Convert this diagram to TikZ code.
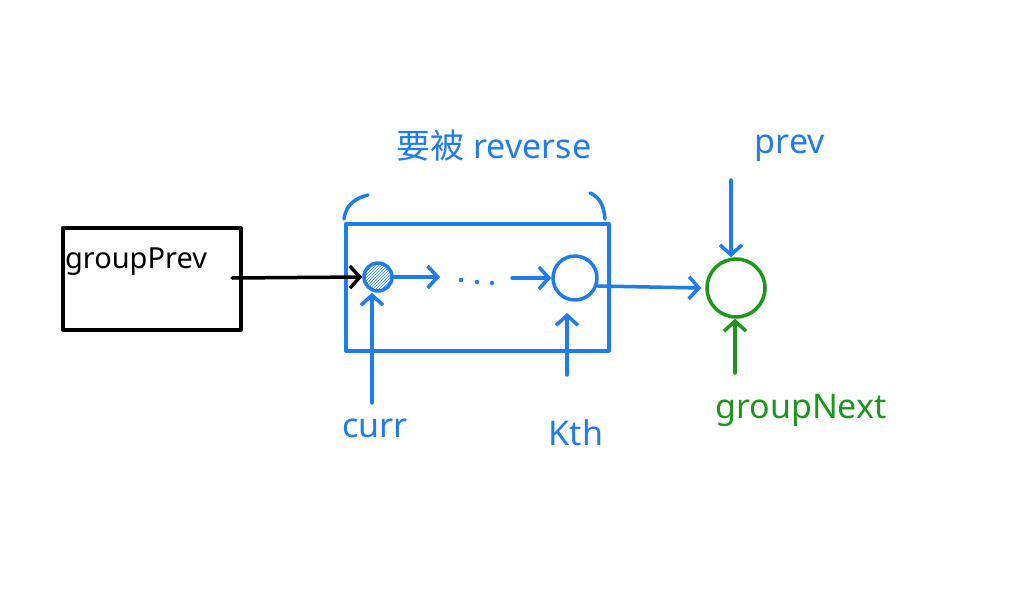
\documentclass[tikz,border=0pt]{standalone}
\usepackage{fontspec}
\setmainfont{Noto Sans}
\newfontfamily\cjk{Noto Sans CJK SC}
\usetikzlibrary{arrows.meta,patterns}
\definecolor{hblue}{RGB}{30,125,232}
\definecolor{hgreen}{RGB}{28,150,28}
\tikzset{
  pen/.style={line width=3.5pt,line cap=round,line join=round},
  arr/.style={pen,-{Straight Barb[length=10pt,width=22pt,line width=3.5pt]}},
  lbl/.style={font=\fontsize{34}{34}\selectfont},
  dotmark/.style={circle,fill=hblue,minimum size=4.5pt,inner sep=0pt},
}
\begin{document}
\begin{tikzpicture}[x=1pt,y=-1pt]
\useasboundingbox[fill=white] (0,0) rectangle (1024,599);
% groupPrev box
\node[draw=black,pen,minimum width=178pt,minimum height=102pt,anchor=north west,inner sep=0pt] (gp) at (61,226) {};
\node[font=\fontsize{29}{29}\selectfont,text=black] (gpt) at (136,262) {groupPrev};
% blue block
\node[draw=hblue,pen,minimum width=263pt,minimum height=127pt,anchor=north west,inner sep=0pt] (blk) at (344,222) {};
\coordinate (bl) at (344,219);
\coordinate (br) at (605,219);
\draw[hblue,pen] (bl) .. controls (346,204) and (356,198) .. (368,195);
\draw[hblue,pen] (br) .. controls (604,204) and (598,196) .. (590,193);
\node[lbl,text=hblue] (title) at (494,146) {{\cjk 要被} reverse};
% nodes
\node[circle,draw=hblue,pen,minimum size=28pt,inner sep=0pt,pattern=north east lines,pattern color=hblue] (curr) at (378,277) {};
\node[circle,draw=hblue,pen,minimum size=44pt,inner sep=0pt] (kth) at (575,278) {};
\node[circle,draw=hgreen,pen,minimum size=58pt,inner sep=0pt] (gn) at (736,288) {};
\node[dotmark] (d1) at (461,280) {};
\node[dotmark] (d2) at (477,282) {};
\node[dotmark] (d3) at (492,283) {};
% arrows
\coordinate (gpout) at (232,278);
\draw[arr,black] (gpout) -- (curr.west);
\draw[arr,hblue] (curr.east) -- (440,277);
\draw[arr,hblue] (512,278) -- (kth.west);
\coordinate (kout) at (598,286);
\draw[arr,hblue] (kout) -- ([xshift=-4pt]gn.west);
% labels
\node[lbl,text=hblue] (currl) at (375,428) {curr};
\node[lbl,text=hblue] (kthl) at (576,433) {Kth};
\node[lbl,text=hblue] (prevl) at (790,148) {prev};
\node[lbl,text=hgreen] (gnl) at (801,410) {groupNext};
\coordinate (currs) at (372,403);
\coordinate (kths) at (567,375);
\coordinate (prevs) at (731,180);
\coordinate (gns) at (735,373);
\draw[arr,hblue] (currs) -- (curr.south -| currs);
\draw[arr,hblue] (kths) -- (567,313);
\draw[arr,hblue] (prevs) -- (gn.north -| prevs);
\draw[arr,hgreen] (gns) -- (gn.south -| gns);
\end{tikzpicture}
\end{document}
